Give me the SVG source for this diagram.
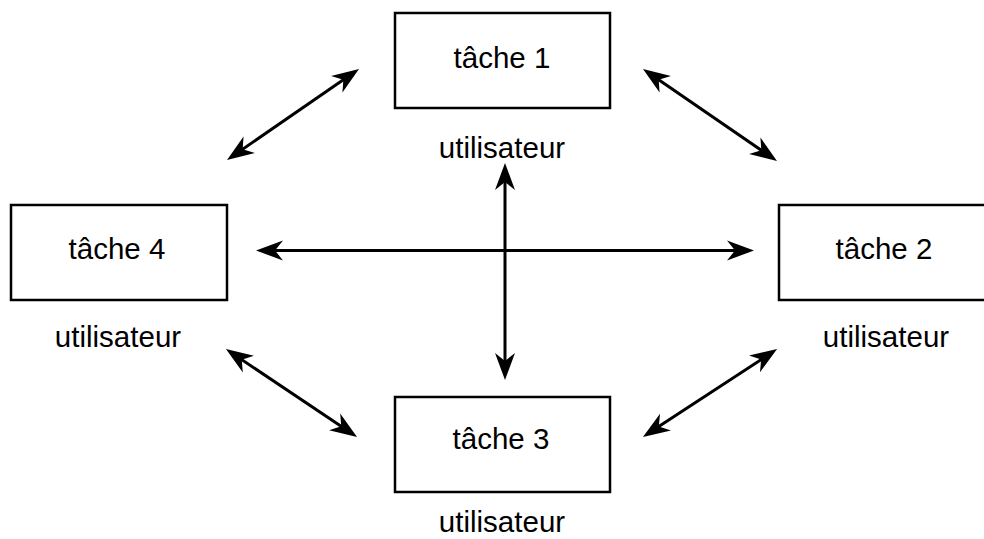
<svg xmlns="http://www.w3.org/2000/svg" width="984" height="539" viewBox="0 0 984 539">
<defs>
<style>
.box{fill:#fff;stroke:#000;stroke-width:2.5}
.lbl{font-family:"Liberation Sans",Arial,sans-serif;font-size:29.5px;fill:#000;text-anchor:middle}
.con{fill:none;stroke:#000;stroke-width:3;marker-start:url(#ah);marker-end:url(#ah)}
</style>
<marker id="ah" viewBox="-22 -11 32 22" markerWidth="32" markerHeight="22" refX="0" refY="0" markerUnits="userSpaceOnUse" orient="auto-start-reverse">
<path d="M8,0 L-19,-10 L-11,0 L-19,10 Z" fill="#000"/>
</marker>
</defs>
<rect width="984" height="539" fill="#fff"/>
<g id="connectors">
<path class="con" d="M264,250.5 L746,250.5"/>
<path class="con" d="M505,171 L505,372"/>
<path class="con" d="M233.6,155.5 L352.4,73.5"/>
<path class="con" d="M649.6,73.5 L770.4,156.5"/>
<path class="con" d="M232.6,353.5 L350.4,432.5"/>
<path class="con" d="M649.6,432.5 L770.4,353.5"/>
</g>
<g id="tache1">
<rect class="box" x="395" y="13" width="215" height="95"/>
<text class="lbl" x="502" y="68">tâche 1</text>
<text class="lbl" x="502" y="158">utilisateur</text>
</g>
<g id="tache2">
<rect class="box" x="779" y="205" width="215" height="95"/>
<text class="lbl" x="884" y="259">tâche 2</text>
<text class="lbl" x="886" y="347">utilisateur</text>
</g>
<g id="tache3">
<rect class="box" x="395" y="397" width="215" height="95"/>
<text class="lbl" x="501" y="449">tâche 3</text>
<text class="lbl" x="502" y="532">utilisateur</text>
</g>
<g id="tache4">
<rect class="box" x="11" y="205" width="216" height="95"/>
<text class="lbl" x="117" y="259">tâche 4</text>
<text class="lbl" x="118" y="347">utilisateur</text>
</g>
</svg>
